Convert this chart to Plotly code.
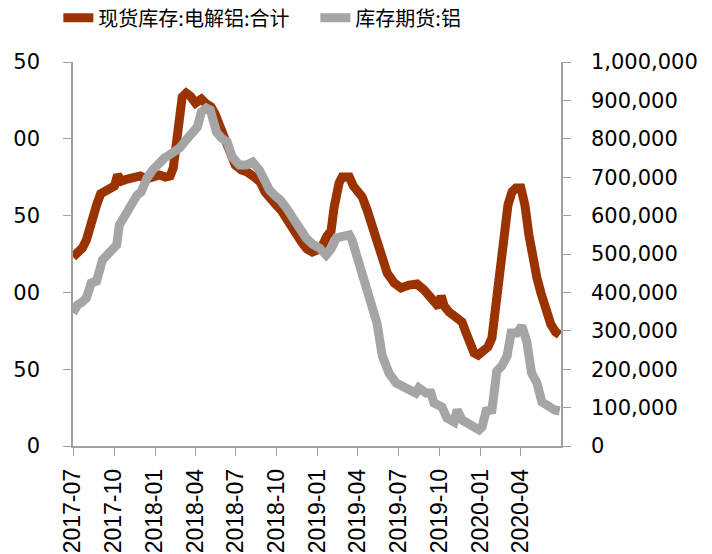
import plotly.graph_objects as go

# 现货库存:电解铝:合计 (left axis)
spot_dates = [
    "2017-07-01", "2017-07-11", "2017-07-22", "2017-07-31", "2017-08-07", "2017-08-14",
    "2017-08-23", "2017-09-01", "2017-09-12", "2017-09-25", "2017-10-02", "2017-10-09",
    "2017-10-18", "2017-10-31", "2017-11-16", "2017-11-29", "2017-12-13", "2017-12-26",
    "2018-01-11", "2018-01-24", "2018-02-04", "2018-02-11", "2018-02-18", "2018-02-25",
    "2018-03-03", "2018-03-12", "2018-03-21", "2018-04-02", "2018-04-15", "2018-04-26",
    "2018-05-07", "2018-05-16", "2018-05-25", "2018-06-08", "2018-06-19", "2018-06-30",
    "2018-07-14", "2018-07-27", "2018-08-12", "2018-08-25", "2018-09-05", "2018-09-17",
    "2018-09-30", "2018-10-11", "2018-10-25", "2018-11-05", "2018-11-16", "2018-11-27",
    "2018-12-08", "2018-12-20", "2018-12-31", "2019-01-11", "2019-01-22", "2019-01-31",
    "2019-02-07", "2019-02-12", "2019-02-18", "2019-02-25", "2019-03-06", "2019-03-13",
    "2019-03-22", "2019-03-31", "2019-04-11", "2019-04-22", "2019-05-03", "2019-05-14",
    "2019-05-26", "2019-06-06", "2019-06-22", "2019-07-07", "2019-07-25", "2019-08-12",
    "2019-08-28", "2019-09-12", "2019-09-24", "2019-09-30", "2019-10-05", "2019-10-12",
    "2019-10-23", "2019-11-07", "2019-11-21", "2019-11-30", "2019-12-09", "2019-12-18",
    "2019-12-27", "2020-01-07", "2020-01-18", "2020-01-27", "2020-02-01", "2020-02-07",
    "2020-02-14", "2020-02-23", "2020-03-03", "2020-03-12", "2020-03-21", "2020-04-01",
    "2020-04-10", "2020-04-19", "2020-04-28", "2020-05-07", "2020-05-16", "2020-05-27",
    "2020-06-07", "2020-06-18", "2020-06-27",
]
spot_values = [
    123.0, 125.7, 128.9, 134.1, 141.9, 150.4,
    156.9, 164.1, 166.0, 166.7, 169.3, 176.4,
    172.5, 173.8, 175.1, 175.8, 173.8, 175.1,
    176.4, 175.1, 175.8, 181.0, 202.5, 218.8,
    227.2, 229.8, 227.9, 223.3, 225.9, 222.7,
    220.7, 216.1, 209.6, 200.5, 190.8, 182.9,
    179.7, 178.4, 175.1, 171.9, 165.4, 160.2,
    156.9, 153.6, 146.5, 140.6, 136.7, 132.2,
    128.3, 126.3, 127.6, 130.2, 136.7, 140.0,
    155.6, 164.7, 171.2, 175.1, 175.8, 175.1,
    169.3, 165.4, 162.1, 153.6, 143.9, 132.2,
    119.8, 112.6, 106.1, 102.9, 104.8, 105.5,
    101.6, 97.0, 92.4, 90.5, 97.7, 91.1,
    87.2, 84.0, 80.7, 73.6, 65.8, 60.5,
    59.2, 61.2, 64.5, 70.3, 82.0, 104.8,
    122.4, 140.6, 156.9, 165.4, 168.0, 168.0,
    156.9, 137.4, 119.8, 109.4, 99.6, 88.5,
    79.4, 74.2, 72.3,
]

# 库存期货:铝 (right axis)
futures_dates = [
    "2017-07-01", "2017-07-11", "2017-07-22", "2017-07-31", "2017-08-11", "2017-08-23",
    "2017-09-05", "2017-09-16", "2017-09-28", "2017-10-07", "2017-10-13", "2017-10-29",
    "2017-11-11", "2017-11-22", "2017-12-01", "2017-12-14", "2017-12-27", "2018-01-11",
    "2018-01-22", "2018-02-02", "2018-02-13", "2018-02-25", "2018-03-12", "2018-03-24",
    "2018-04-06", "2018-04-15", "2018-04-26", "2018-05-05", "2018-05-12", "2018-05-19",
    "2018-05-30", "2018-06-12", "2018-06-23", "2018-07-09", "2018-07-25", "2018-08-08",
    "2018-08-23", "2018-09-03", "2018-09-15", "2018-09-28", "2018-10-09", "2018-10-23",
    "2018-11-05", "2018-11-20", "2018-12-06", "2018-12-20", "2019-01-05", "2019-01-20",
    "2019-01-31", "2019-02-12", "2019-02-25", "2019-03-13", "2019-03-19", "2019-03-31",
    "2019-04-11", "2019-04-20", "2019-05-01", "2019-05-14", "2019-05-26", "2019-06-10",
    "2019-06-26", "2019-07-18", "2019-08-09", "2019-08-16", "2019-09-01", "2019-09-12",
    "2019-09-19", "2019-10-07", "2019-10-18", "2019-11-03", "2019-11-10", "2019-11-21",
    "2019-12-07", "2019-12-18", "2019-12-29", "2020-01-05", "2020-01-14", "2020-01-27",
    "2020-02-07", "2020-02-18", "2020-03-01", "2020-03-10", "2020-03-23", "2020-04-03",
    "2020-04-14", "2020-04-25", "2020-05-07", "2020-05-18", "2020-06-03", "2020-06-16",
    "2020-06-27",
]
futures_values = [
    346400, 367200, 375000, 385400, 424500, 429700,
    484400, 500000, 513000, 523400, 575500, 606800,
    640600, 653600, 661500, 697900, 718800, 739600,
    750000, 757800, 765600, 776000, 796900, 817700,
    830700, 869800, 880200, 875000, 849000, 817700,
    802100, 791700, 752600, 731800, 731800, 739600,
    718800, 687500, 666700, 651000, 640600, 619800,
    596400, 567700, 541700, 526000, 515600, 497400,
    513000, 541700, 544300, 549500, 536500, 489600,
    442700, 406200, 380200, 320300, 234400, 190100,
    164100, 151000, 138000, 151000, 138000, 138000,
    112000, 101600, 72900, 62500, 93800, 67700,
    57300, 49500, 41700, 49500, 91100, 93800,
    195300, 208300, 234400, 294300, 294300, 312500,
    273400, 190100, 164100, 114600, 101600, 93800,
    91100,
]

left_tick_vals = [0, 50, 100, 150, 200, 250]
left_tick_text = ["0", "50", "00", "50", "00", "50"]
right_tick_vals = [0, 100000, 200000, 300000, 400000, 500000, 600000, 700000, 800000, 900000, 1000000]

axis_grey = "#A0A0A0"

fig = go.Figure()
fig.add_trace(go.Scatter(x=spot_dates, y=spot_values, mode="lines", name="现货库存:电解铝:合计",
                         line=dict(color="#9A3300", width=9)))
fig.add_trace(go.Scatter(x=futures_dates, y=futures_values, mode="lines", name="库存期货:铝",
                         yaxis="y2", line=dict(color="#A5A5A5", width=9)))

fig.update_layout(
    width=712, height=554,
    margin=dict(l=73, r=151, t=62, b=108, autoexpand=False),
    plot_bgcolor="white", paper_bgcolor="white",
    font=dict(family="DejaVu Sans", size=21, color="black"),
    showlegend=True,
    legend=dict(orientation="h", x=-0.03, xanchor="left", y=1.115, yanchor="middle",
                font=dict(family="Noto Sans CJK SC", size=20), entrywidth=212,
                bgcolor="rgba(0,0,0,0)"),
    xaxis=dict(range=["2017-07-01", "2020-06-30"], type="date", tickformat="%Y-%m",
               dtick="M3", tick0="2017-07-01", tickangle=-90, ticks="outside", ticklen=8,
               tickcolor=axis_grey, showline=True, linecolor=axis_grey, linewidth=1.5,
               showgrid=False, zeroline=False, ticklabelstandoff=4, automargin=False,
               tickfont=dict(family="Liberation Sans", size=23)),
    yaxis=dict(range=[0, 250], tickvals=left_tick_vals, ticktext=left_tick_text,
               ticks="outside", ticklen=8, tickcolor=axis_grey, showline=True,
               linecolor=axis_grey, linewidth=1.5, showgrid=False, zeroline=False,
               ticklabelstandoff=19, automargin=False),
    yaxis2=dict(range=[0, 1000000], tickvals=right_tick_vals, tickformat=",d",
                overlaying="y", side="right", ticks="outside", ticklen=8,
                tickcolor=axis_grey, showline=True, linecolor=axis_grey, linewidth=1.5,
                showgrid=False, zeroline=False, ticklabelstandoff=16, automargin=False),
)

fig.write_html("out.html", config={"displayModeBar": False},
               post_script="document.body.style.margin = '0';")
